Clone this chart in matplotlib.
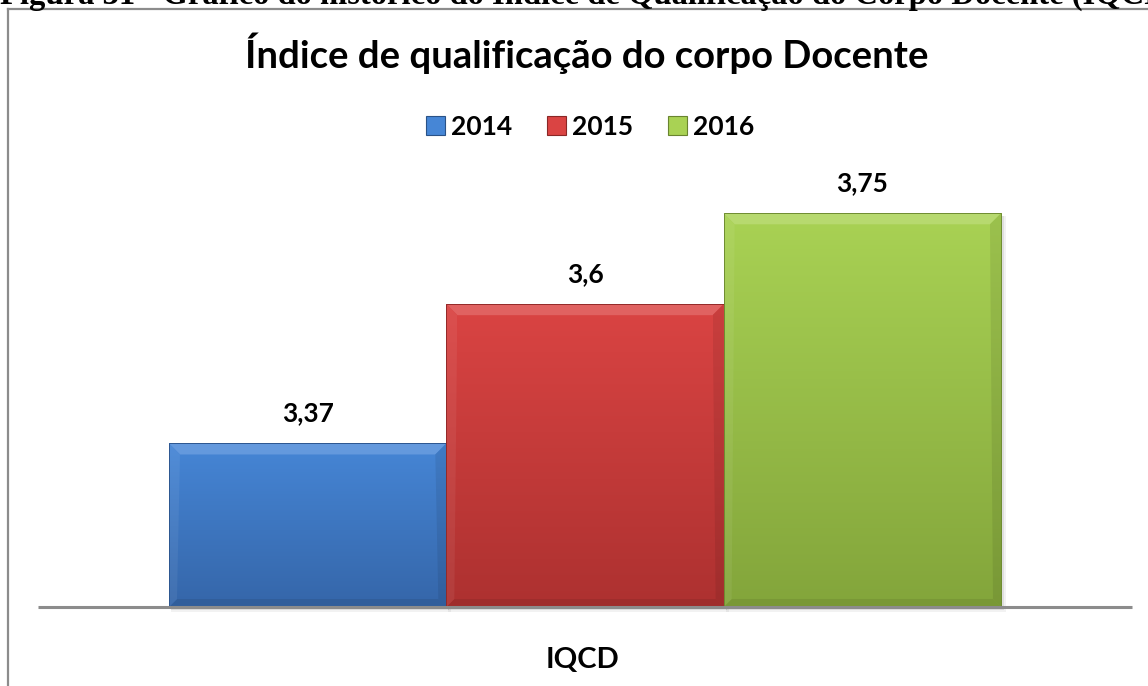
import matplotlib
matplotlib.use("Agg")
import matplotlib.pyplot as plt
import numpy as np
from matplotlib.patches import Polygon, Patch
from matplotlib.lines import Line2D
from matplotlib.colors import to_rgb, LinearSegmentedColormap

# Data
years = ["2014", "2015", "2016"]
values = [3.37, 3.60, 3.75]
value_labels = ["3,37", "3,6", "3,75"]
category = "IQCD"

title = "Índice de qualificação do corpo Docente"
caption = "Figura 31 - Gráfico do histórico do Índice de Qualificação do Corpo Docente (IQCD)"

# Styles
top_colors = ["#4686D6", "#DA4443", "#A9D254"]
bottom_colors = ["#3566A9", "#AD3130", "#83A53B"]
FONT = "Lato"
Y_MIN, Y_MAX = 3.1, 3.805

W, H = 1148, 686
fig = plt.figure(figsize=(W / 100, H / 100), dpi=100)
fig.patch.set_facecolor("white")

def fx(px):
    return px / W

def fy(py):
    return 1 - py / H

# Caption line above the chart frame (partly cut off by the page edge)
fig.text(fx(0), fy(4), caption, family="Liberation Serif", weight="bold",
         fontsize=23.5, ha="left", va="baseline", color="black")

# Chart frame
fig.add_artist(Line2D([fx(8), fx(8)], [fy(9), fy(H + 5)], color="#8C8C8C", lw=1.6,
                      transform=fig.transFigure))
fig.add_artist(Line2D([fx(8), fx(W + 5)], [fy(9), fy(9)], color="#8C8C8C", lw=1.6,
                      transform=fig.transFigure))

AX_L, AX_R, AX_B, AX_T = 38, 1132, 607, 180
ax = fig.add_axes([fx(AX_L), fy(AX_B), fx(AX_R) - fx(AX_L), fy(AX_T) - fy(AX_B)])
ax.set_xlim(-0.5, 0.5)
ax.set_ylim(Y_MIN, Y_MAX)
ax.set_autoscale_on(False)
ax.axis("off")

bar_w = 0.2535
xs = [-bar_w, 0.0, bar_w]
bars = ax.bar(xs, [v - Y_MIN for v in values], bottom=Y_MIN, width=bar_w,
              color=top_colors, edgecolor="none", zorder=2)

# pixel -> data scale for bevels
fig.canvas.draw()
inv = ax.transData.inverted()
p0 = inv.transform((0, 0))
p1 = inv.transform((1, 1))
dx_px, dy_px = p1[0] - p0[0], p1[1] - p0[1]

def mix(c, other, t):
    c = np.array(to_rgb(c)); o = np.array(to_rgb(other))
    return tuple(c * (1 - t) + o * t)

grad = np.linspace(0, 1, 256).reshape(-1, 1)

for bar, ctop, cbot in zip(bars, top_colors, bottom_colors):
    x0 = bar.get_x(); x1 = x0 + bar.get_width()
    y0 = bar.get_y(); y1 = y0 + bar.get_height()
    # soft shadow
    for k, a in ((5, 0.05), (3, 0.08)):
        ax.add_patch(Polygon([(x0 + 2 * dx_px, y0 - k * dy_px), (x1 + k * dx_px, y0 - k * dy_px),
                              (x1 + k * dx_px, y1 - 3 * dy_px), (x0 + 2 * dx_px, y1 - 3 * dy_px)],
                             closed=True, facecolor="#000000", alpha=a, edgecolor="none",
                             zorder=1, clip_on=False))
    # vertical gradient body
    cmap = LinearSegmentedColormap.from_list("g", [cbot, ctop])
    ax.imshow(grad, extent=(x0, x1, y0, y1), origin="lower", aspect="auto",
              cmap=cmap, zorder=3, interpolation="bicubic")
    bx, by = 11 * dx_px, 11 * dy_px
    bbx, bby = 8 * dx_px, 8 * dy_px
    top_pts = [(x0, y1), (x1, y1), (x1 - bx, y1 - by), (x0 + bx, y1 - by)]
    bot_pts = [(x0, y0), (x1, y0), (x1 - bbx, y0 + bby), (x0 + bbx, y0 + bby)]
    left_pts = [(x0, y0), (x0 + bbx, y0 + bby), (x0 + bx, y1 - by), (x0, y1)]
    right_pts = [(x1, y0), (x1 - bbx, y0 + bby), (x1 - bx, y1 - by), (x1, y1)]
    ax.add_patch(Polygon(top_pts, closed=True, facecolor=mix(ctop, "white", 0.16),
                         edgecolor="none", zorder=4))
    ax.add_patch(Polygon(bot_pts, closed=True, facecolor=mix(cbot, "black", 0.08),
                         edgecolor="none", zorder=4))
    for pts, c2, t in ((left_pts, "white", 0.06), (right_pts, "black", 0.08)):
        poly = Polygon(pts, closed=True, facecolor="none", edgecolor="none", zorder=4)
        ax.add_patch(poly)
        cm2 = LinearSegmentedColormap.from_list("s", [mix(cbot, c2, t), mix(ctop, c2, t)])
        xa = min(p[0] for p in pts); xb = max(p[0] for p in pts)
        im = ax.imshow(grad, extent=(xa, xb, y0, y1), origin="lower", aspect="auto",
                       cmap=cm2, zorder=4, interpolation="bicubic")
        im.set_clip_path(poly)
    # outline
    ax.add_patch(Polygon([(x0, y0), (x1, y0), (x1, y1), (x0, y1)], closed=True,
                         facecolor="none", edgecolor=mix(cbot, "black", 0.15), lw=0.7, zorder=5))

ax.set_xlim(-0.5, 0.5)
ax.set_ylim(Y_MIN, Y_MAX)

# category axis line along the bottom of the plot area
fig.add_artist(Line2D([fx(AX_L), fx(AX_R)], [fy(AX_B), fy(AX_B)], color="#8C8C8C",
                      lw=2.2, solid_capstyle="butt", transform=fig.transFigure, zorder=0.5))

# value labels
for x, v, lab in zip(xs, values, value_labels):
    ax.annotate(lab, (x, v), xytext=(0, 13), textcoords="offset points",
                ha="center", va="bottom", fontsize=19, weight="bold", family=FONT,
                color="black", zorder=6)

# title
fig.text(fx(587), fy(53), title, ha="center", va="center", fontsize=27.5,
         weight="bold", family=FONT)

# legend
handles = [Patch(facecolor=c, edgecolor=mix(b, "black", 0.2), lw=0.8)
           for c, b in zip(top_colors, bottom_colors)]
fig.legend(handles, years, loc="center", bbox_to_anchor=(fx(590), fy(127)), ncol=3,
           frameon=False, prop={"family": FONT, "weight": "bold", "size": 19},
           handlelength=0.72, handleheight=0.72, handletextpad=0.25, columnspacing=1.3)

# category label
fig.text(fx(583), fy(660), category, ha="center", va="center", fontsize=21,
         weight="bold", family=FONT)

fig.savefig("out.png", dpi=100, facecolor="white")
